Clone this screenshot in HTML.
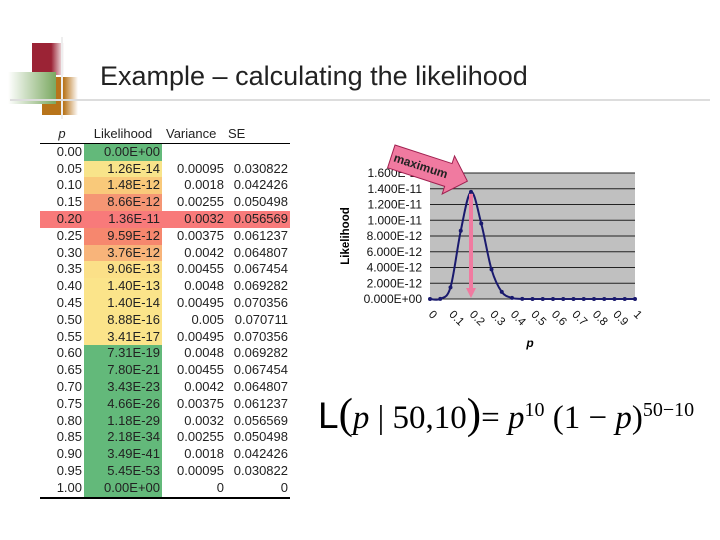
<!DOCTYPE html>
<html><head><meta charset="utf-8"><style>
body{margin:0;width:720px;height:540px;background:#fff;font-family:"Liberation Sans",sans-serif;position:relative;overflow:hidden}
.a{position:absolute}
table{position:absolute;left:40px;top:126px;border-collapse:collapse;font-size:13px;color:#222}
td{height:16.8px;padding:0 2px;line-height:16.8px;text-align:right;white-space:nowrap}
</style></head><body>
<div class="a" style="left:32px;top:43px;width:32px;height:32px;background:linear-gradient(90deg,#9b2335 60%,#fff)"></div>
<div class="a" style="left:42px;top:77px;width:36px;height:38px;background:linear-gradient(90deg,#b8741a 60%,#fff)"></div>
<div class="a" style="left:8px;top:72px;width:48px;height:32px;background:linear-gradient(90deg,#fff,#7aa860)"></div>
<div class="a" style="left:61px;top:37px;width:2px;height:82px;background:#eee"></div>
<div class="a" style="left:10px;top:99px;width:700px;height:2px;background:#ddd"></div>
<div class="a" style="left:100px;top:61px;font-size:27px;color:#222">Example – calculating the likelihood</div>

<table id="tbl">
<tr style="border-bottom:1px solid #000"><td style="width:40px;text-align:center;font-style:italic">p</td><td style="width:74px;text-align:center">Likelihood</td><td style="width:58px;text-align:left;padding-left:4px">Variance</td><td style="width:60px;text-align:left">SE</td></tr>
</table>

<svg class="a" style="left:0;top:0" width="720" height="540" id="chart"></svg>
<div class="a" style="left:318px;top:390px;font-family:'Liberation Serif',serif;font-size:33px;white-space:nowrap"><span style="font-family:'Liberation Sans';font-size:37px">L</span><span style="font-size:43px">(</span><i>p</i> | 50,10<span style="font-size:43px">)</span>= <i>p</i><sup style="font-size:20px">10</sup> (1 − <i>p</i>)<sup style="font-size:20px">50−10</sup></div>

<script>
const ps=["0.00","0.05","0.10","0.15","0.20","0.25","0.30","0.35","0.40","0.45","0.50","0.55","0.60","0.65","0.70","0.75","0.80","0.85","0.90","0.95","1.00"];
const likeText=["0.00E+00","1.26E-14","1.48E-12","8.66E-12","1.36E-11","9.59E-12","3.76E-12","9.06E-13","1.40E-13","1.40E-14","8.88E-16","3.41E-17","7.31E-19","7.80E-21","3.43E-23","4.66E-26","1.18E-29","2.18E-34","3.49E-41","5.45E-53","0.00E+00"];
const variance=["","0.00095","0.0018","0.00255","0.0032","0.00375","0.0042","0.00455","0.0048","0.00495","0.005","0.00495","0.0048","0.00455","0.0042","0.00375","0.0032","0.00255","0.0018","0.00095","0"];
const se=["","0.030822","0.042426","0.050498","0.056569","0.061237","0.064807","0.067454","0.069282","0.070356","0.070711","0.070356","0.069282","0.067454","0.064807","0.061237","0.056569","0.050498","0.042426","0.030822","0"];
const cellColors=["#63b97a","#f8e48a","#f9c97a","#f59674","#f87a7a","#f6876e","#f8b47a","#fbe088","#fbe48a","#fbe48a","#fbe48a","#fbe48a","#63b97a","#63b97a","#63b97a","#63b97a","#63b97a","#63b97a","#63b97a","#63b97a","#63b97a"];
const tbl=document.getElementById('tbl');
ps.forEach((p,i)=>{
  const tr=document.createElement('tr');
  
  
  if(i==4) tr.style.background='#f87a7a';
  if(i==20) tr.style.borderBottom='2px solid #000';
  [p,likeText[i],variance[i],se[i]].forEach((t,j)=>{
    const td=document.createElement('td');td.textContent=t;
    if(j==1) td.style.background=cellColors[i];
    tr.appendChild(td);
  });
  tbl.appendChild(tr);
});
const xVals=[0,0.05,0.1,0.15,0.2,0.25,0.3,0.35,0.4,0.45,0.5,0.55,0.6,0.65,0.7,0.75,0.8,0.85,0.9,0.95,1];
const yVals=[0,1.26e-14,1.48e-12,8.66e-12,1.36e-11,9.59e-12,3.76e-12,9.06e-13,1.40e-13,1.40e-14,8.88e-16,3.41e-17,7.31e-19,7.80e-21,3.43e-23,4.66e-26,1.18e-29,2.18e-34,3.49e-41,5.45e-53,0];
const yTicks=["0.000E+00","2.000E-12","4.000E-12","6.000E-12","8.000E-12","1.000E-11","1.200E-11","1.400E-11","1.600E-11"];
const xTicks=["0","0.1","0.2","0.3","0.4","0.5","0.6","0.7","0.8","0.9","1"];
const X0=430,X1=635,Y0=299,Y1=173,YMAX=1.6e-11;
const sx=v=>X0+v*(X1-X0), sy=v=>Y0-v/YMAX*(Y0-Y1);
const svg=document.getElementById('chart');const NS='http://www.w3.org/2000/svg';
function mk(t,a,parent){const e=document.createElementNS(NS,t);for(const k in a)e.setAttribute(k,a[k]);(parent||svg).appendChild(e);return e;}
const bg=mk('rect',{x:X0,y:Y1,width:X1-X0,height:Y0-Y1,fill:'#c0c0c0'});


yTicks.forEach((t,i)=>{
  const v=i*2e-12;
  const g=mk('line',{x1:X0,x2:X1,y1:sy(v),y2:sy(v),stroke:'#222','stroke-width':1});
  
  
  const tx=mk('text',{x:X0-8,y:sy(v)+4,'text-anchor':'end','font-size':12,fill:'#111'});tx.textContent=t;
  
  
});
xTicks.forEach((t,i)=>{
  const x=sx(i/10);
  const tx=mk('text',{x:x-2,y:Y0+16,'font-size':11.5,fill:'#111',transform:`rotate(45 ${x-2} ${Y0+16})`});tx.textContent=t;
  
  
});
const P=xVals.map((x,i)=>[sx(x),sy(yVals[i])]);
let d='M'+P[0][0]+','+P[0][1];
for(let i=0;i<P.length-1;i++){
  const p0=P[Math.max(0,i-1)],p1=P[i],p2=P[i+1],p3=P[Math.min(P.length-1,i+2)];
  const t=1/6;
  d+=`C${p1[0]+(p2[0]-p0[0])*t},${p1[1]+(p2[1]-p0[1])*t} ${p2[0]-(p3[0]-p1[0])*t},${p2[1]-(p3[1]-p1[1])*t} ${p2[0]},${p2[1]}`;
}
const ln=mk('path',{d:d,fill:'none',stroke:'#1a1a6e','stroke-width':2,'stroke-linejoin':'round'});


xVals.forEach((x,i)=>{const c=mk('circle',{cx:sx(x),cy:sy(yVals[i]),r:2,fill:'#1a1a6e'});
  
  });
const yl=mk('text',{x:349,y:236,'font-size':11.5,'font-weight':'bold','text-anchor':'middle',transform:'rotate(-90 349 236)'});yl.textContent='Likelihood';


const xl=mk('text',{x:530,y:347,'font-size':12,'font-weight':'bold','font-style':'italic','text-anchor':'middle'});xl.textContent='p';


const mx=sx(0.2);
const va=mk('path',{d:`M${mx-2},${sy(1.36e-11)+2}L${mx-2},288L${mx-5},288L${mx},298L${mx+5},288L${mx+2},288L${mx+2},${sy(1.36e-11)+2}Z`,fill:'#f07aa0'});


const g=mk('g',{transform:'translate(395,145) rotate(18)'});


mk('path',{d:'M0,0L60,0L60,-8L80,12L60,32L60,24L0,24Z',fill:'#f07aa0',stroke:'#a02050','stroke-width':1},g);
const mt=mk('text',{x:3,y:16,'font-size':12,'font-weight':'bold',fill:'#222'},g);mt.textContent='maximum';
</script>
</body></html>
